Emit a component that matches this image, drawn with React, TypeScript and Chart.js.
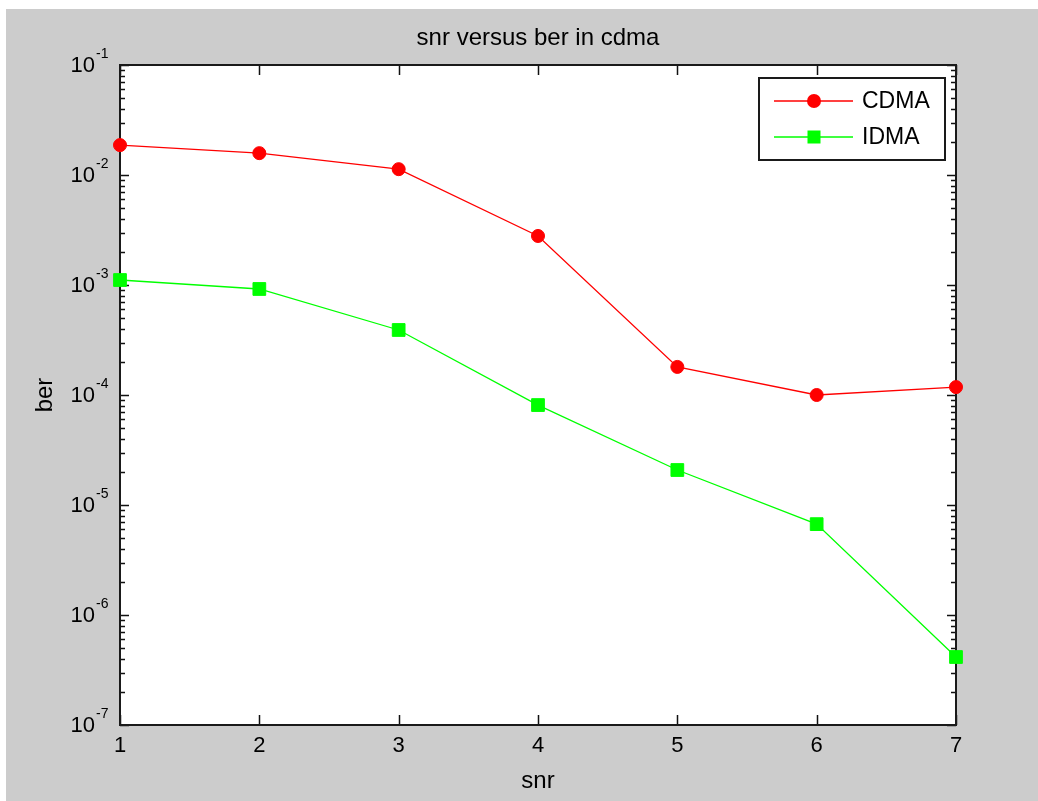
import { useEffect, useRef } from "react";
import { Chart, registerables } from "chart.js";

Chart.register(...registerables);

// ---- data ----
const TITLE = "snr versus ber in cdma";
const X_LABEL = "snr";
const Y_LABEL = "ber";
const seriesNames = ["CDMA", "IDMA"];
const snr = [1, 2, 3, 4, 5, 6, 7];
const cdmaBer = [1.87e-2, 1.58e-2, 1.13e-2, 2.79e-3, 1.8e-4, 1.0e-4, 1.18e-4];
const idmaBer = [1.11e-3, 9.2e-4, 3.9e-4, 8.1e-5, 2.08e-5, 6.7e-6, 4.15e-7];
const xTicks = [1, 2, 3, 4, 5, 6, 7];
const yDecadeExponents = [-7, -6, -5, -4, -3, -2, -1];
const yMinorMultipliers = [2, 3, 4, 5, 6, 7, 8, 9];

const FONT = '"Liberation Sans", Arial, Helvetica, sans-serif';

const matlabAxes = {
  id: "matlabAxes",
  beforeDraw(chart: any) {
    const { ctx, chartArea: a } = chart;
    ctx.save();
    ctx.fillStyle = "#cccccc";
    ctx.fillRect(0, 0, chart.width, chart.height);
    ctx.fillStyle = "#ffffff";
    ctx.fillRect(a.left, a.top, a.right - a.left, a.bottom - a.top);
    ctx.restore();
  },
  beforeDatasetsDraw(chart: any) {
    const { ctx, chartArea: a, scales } = chart;
    const xs = scales.x;
    const ys = scales.y;
    ctx.save();
    ctx.strokeStyle = "#111111";
    ctx.lineWidth = 1.5;
    ctx.beginPath();
    xTicks.forEach((v) => {
      const px = Math.round(xs.getPixelForValue(v)) + 0.5;
      ctx.moveTo(px, a.bottom);
      ctx.lineTo(px, a.bottom - 10);
      ctx.moveTo(px, a.top);
      ctx.lineTo(px, a.top + 10);
    });
    yDecadeExponents.forEach((e, i) => {
      const py = Math.round(ys.getPixelForValue(Math.pow(10, e))) + 0.5;
      ctx.moveTo(a.left, py);
      ctx.lineTo(a.left + 9, py);
      ctx.moveTo(a.right, py);
      ctx.lineTo(a.right - 9, py);
      if (i < yDecadeExponents.length - 1) {
        yMinorMultipliers.forEach((m) => {
          const pm = Math.round(ys.getPixelForValue(m * Math.pow(10, e))) + 0.5;
          ctx.moveTo(a.left, pm);
          ctx.lineTo(a.left + 5, pm);
          ctx.moveTo(a.right, pm);
          ctx.lineTo(a.right - 5, pm);
        });
      }
    });
    ctx.stroke();
    ctx.lineWidth = 2;
    ctx.strokeStyle = "#1a1a1a";
    ctx.strokeRect(a.left, a.top, a.right - a.left, a.bottom - a.top);
    ctx.restore();
  },
  afterDatasetsDraw(chart: any) {
    const { ctx, chartArea: a } = chart;
    ctx.save();
    // legend box
    const bx = a.right - 197;
    const by = a.top + 13;
    const bw = 186;
    const bh = 82;
    ctx.fillStyle = "#ffffff";
    ctx.fillRect(bx, by, bw, bh);
    ctx.lineWidth = 2;
    ctx.strokeStyle = "#1a1a1a";
    ctx.strokeRect(bx, by, bw, bh);
    chart.data.datasets.forEach((ds: any, i: number) => {
      const ry = by + 23 + i * 36;
      ctx.strokeStyle = ds.borderColor;
      ctx.lineWidth = 1.3;
      ctx.beginPath();
      ctx.moveTo(bx + 15, ry);
      ctx.lineTo(bx + 94, ry);
      ctx.stroke();
      ctx.fillStyle = ds.pointBackgroundColor;
      const mx = bx + 55;
      if (ds.pointStyle === "rect") {
        ctx.fillRect(mx - 6.5, ry - 6.5, 13, 13);
      } else {
        ctx.beginPath();
        ctx.arc(mx, ry, 7, 0, Math.PI * 2);
        ctx.fill();
      }
      ctx.fillStyle = "#000000";
      ctx.font = `23px ${FONT}`;
      ctx.textAlign = "left";
      ctx.textBaseline = "middle";
      ctx.fillText(ds.label, bx + 103, ry + 1);
    });
    ctx.restore();
  },
  afterDraw(chart: any) {
    const { ctx, chartArea: a, scales } = chart;
    const xs = scales.x;
    const ys = scales.y;
    ctx.save();
    ctx.fillStyle = "#000000";
    // x tick labels
    ctx.font = `22px ${FONT}`;
    ctx.textAlign = "center";
    ctx.textBaseline = "middle";
    xTicks.forEach((v) => {
      ctx.fillText(String(v), xs.getPixelForValue(v), a.bottom + 21);
    });
    // y tick labels: 10 with superscript exponent
    yDecadeExponents.forEach((e) => {
      const py = ys.getPixelForValue(Math.pow(10, e));
      ctx.font = `22px ${FONT}`;
      ctx.textAlign = "right";
      ctx.textBaseline = "middle";
      ctx.fillText("10", a.left - 25, py + 1);
      ctx.font = `14px ${FONT}`;
      ctx.textAlign = "left";
      ctx.textBaseline = "middle";
      ctx.fillText(String(e), a.left - 24, py - 11);
    });
    // axis labels
    ctx.font = `24px ${FONT}`;
    ctx.textAlign = "center";
    ctx.textBaseline = "alphabetic";
    ctx.fillText(X_LABEL, (a.left + a.right) / 2, a.bottom + 63);
    ctx.save();
    ctx.translate(a.left - 68, (a.top + a.bottom) / 2);
    ctx.rotate(-Math.PI / 2);
    ctx.fillText(Y_LABEL, 0, 0);
    ctx.restore();
    ctx.restore();
  },
};

export default function App() {
  const canvasRef = useRef<HTMLCanvasElement | null>(null);

  useEffect(() => {
    const canvas = canvasRef.current;
    if (!canvas) return;
    const chart = new Chart(canvas, {
      type: "line",
      data: {
        datasets: [
          {
            label: seriesNames[0],
            data: snr.map((x, i) => ({ x, y: cdmaBer[i] })),
            borderColor: "#ff0000",
            backgroundColor: "#ff0000",
            pointBackgroundColor: "#ff0000",
            pointBorderColor: "#ff0000",
            borderWidth: 1.3,
            pointStyle: "circle",
            pointRadius: 6.5,
            pointBorderWidth: 1,
            tension: 0,
            clip: false,
          },
          {
            label: seriesNames[1],
            data: snr.map((x, i) => ({ x, y: idmaBer[i] })),
            borderColor: "#00ff00",
            backgroundColor: "#00ff00",
            pointBackgroundColor: "#00ff00",
            pointBorderColor: "#00ff00",
            borderWidth: 1.3,
            pointStyle: "rect",
            pointRadius: 9,
            pointBorderWidth: 1,
            tension: 0,
            clip: false,
          },
        ] as any,
      },
      options: {
        animation: false,
        responsive: false,
        devicePixelRatio: 1,
        layout: { padding: { left: 114, right: 82, top: 0, bottom: 76 } },
        scales: {
          x: { type: "linear", min: 1, max: 7, display: false },
          y: { type: "logarithmic", min: 1e-7, max: 1e-1, display: false },
        },
        plugins: {
          legend: { display: false },
          tooltip: { enabled: false },
          title: {
            display: true,
            text: TITLE,
            fullSize: false,
            color: "#000000",
            font: { family: FONT, size: 24, weight: "normal" },
            padding: { top: 14.6, bottom: 12.6 },
          },
        },
      } as any,
      plugins: [matlabAxes],
    });
    return () => chart.destroy();
  }, []);

  return (
    <div style={{ position: "absolute", left: 6, top: 9, width: 1032, height: 792 }}>
      <canvas ref={canvasRef} width={1032} height={792} style={{ display: "block" }} />
    </div>
  );
}
